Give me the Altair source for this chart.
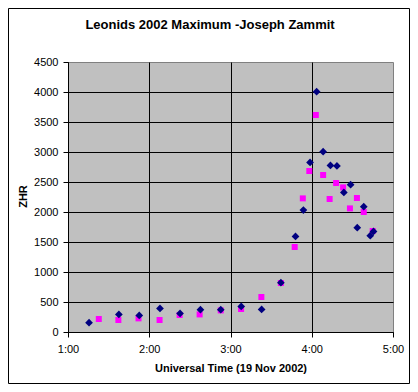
import altair as alt
import pandas as pd

# Universal time in decimal hours, ZHR values
blue_t = [1.259, 1.626, 1.877, 2.132, 2.379, 2.630, 2.880, 3.132, 3.383, 3.620, 3.800, 3.897,
          3.979, 4.060, 4.140, 4.230, 4.310, 4.395, 4.478, 4.560, 4.640, 4.720, 4.760]
blue_zhr = [155, 293, 277, 393, 310, 372, 372, 427, 377, 822, 1593, 2033,
            2827, 4005, 3005, 2777, 2767, 2327, 2455, 1738, 2088, 1605, 1677]
pink_t = [1.379, 1.620, 1.868, 2.127, 2.374, 2.620, 2.880, 3.130, 3.380, 3.620, 3.790,
          3.890, 3.970, 4.050, 4.140, 4.220, 4.300, 4.386, 4.470, 4.556, 4.640, 4.750]
pink_zhr = [217, 200, 227, 200, 283, 293, 360, 383, 583, 817, 1417,
            2227, 2683, 3617, 2617, 2217, 2483, 2410, 2060, 2233, 2000, 1683]

x_ticks = [1, 2, 3, 4, 5]
y_ticks = [0, 500, 1000, 1500, 2000, 2500, 3000, 3500, 4000, 4500]
title_text = "Leonids 2002 Maximum -Joseph Zammit"
x_title = "Universal Time (19 Nov 2002)"
y_title = "ZHR"

blue = pd.DataFrame({"t": blue_t, "zhr": blue_zhr})
pink = pd.DataFrame({"t": pink_t, "zhr": pink_zhr})
one = pd.DataFrame({"label": [title_text]})

FONT = "Liberation Sans"

x_enc = alt.X(
    "t:Q",
    scale=alt.Scale(domain=[1, 5], nice=False, zero=False),
    axis=alt.Axis(
        values=x_ticks,
        labelExpr="floor(datum.value) + ':00'",
        labelFlush=False,
        labelOverlap=False,
        title=x_title,
        titleFontWeight="bold",
        titleFontSize=11,
        titleY=39,
        titleBaseline="alphabetic",
        labelFontSize=11,
        labelPadding=6,
        tickSize=5,
        gridOpacity={"condition": {"test": "datum.value == 5", "value": 0}, "value": 1},
    ),
)
y_enc = alt.Y(
    "zhr:Q",
    scale=alt.Scale(domain=[0, 4500], nice=False),
    axis=alt.Axis(
        values=y_ticks,
        format="d",
        labelFlush=False,
        labelOverlap=False,
        title=y_title,
        titleFontWeight="bold",
        titleFontSize=11,
        titleAngle=270,
        titleX=-42,
        titleY=134,
        titleAlign="center",
        titleBaseline="alphabetic",
        labelFontSize=11,
        labelPadding=5,
        tickSize=5,
        gridOpacity={"condition": {"test": "datum.value == 4500", "value": 0}, "value": 1},
    ),
)

pink_layer = alt.Chart(pink).mark_point(
    shape="square", filled=True, size=36, color="#FF00FF", opacity=1
).encode(x=x_enc, y=y_enc)

blue_layer = alt.Chart(blue).mark_point(
    shape="diamond", filled=True, size=60, color="#000080", opacity=1
).encode(x=x_enc, y=y_enc)

border = alt.Chart(one).mark_rect(fill=None, stroke="black", strokeWidth=1).encode(
    x=alt.value(-59.5), x2=alt.value(341.5), y=alt.value(-53.5), y2=alt.value(321.5)
)

title = alt.Chart(one).mark_text(
    font=FONT, fontSize=13, fontWeight="bold", align="center", baseline="alphabetic", color="black"
).encode(x=alt.value(142), y=alt.value(-33), text="label:N")

chart = alt.layer(border, title, pink_layer, blue_layer).properties(
    width=325,
    height=270,
    autosize=alt.AutoSizeParams(type="none"),
    padding={"left": 60, "top": 54, "right": 17, "bottom": 52},
    background="white",
).configure_view(
    fill="#C0C0C0", stroke="#808080", strokeWidth=1
).configure_axis(
    gridColor="black",
    gridWidth=1,
    domainColor="black",
    domainWidth=1,
    tickColor="black",
    tickWidth=1,
    labelColor="black",
    titleColor="black",
    labelFont=FONT,
    titleFont=FONT,
).configure_text(font=FONT)

chart.save("out.html", embed_options={"renderer": "svg", "actions": False})
